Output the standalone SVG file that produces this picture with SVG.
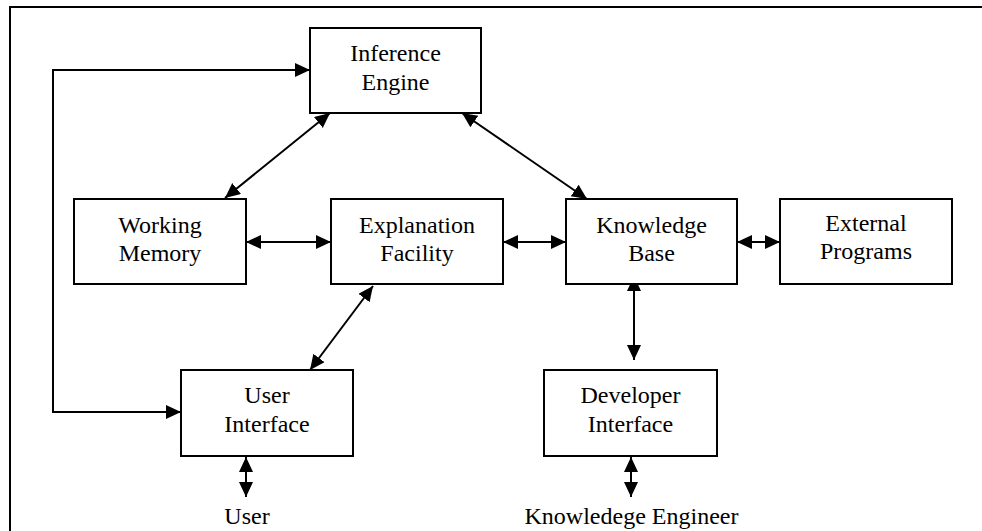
<svg xmlns="http://www.w3.org/2000/svg" width="982" height="531" viewBox="0 0 982 531">
<style>
.box{fill:#fff;stroke:#000;stroke-width:2}
.t{font-family:"Liberation Serif","Times New Roman",serif;font-size:24px;fill:#000;text-anchor:middle}
.c{fill:none;stroke:#000;stroke-width:2}
.frame{fill:none;stroke:#000;stroke-width:2}
</style>
<defs>
<marker id="ah" markerUnits="userSpaceOnUse" markerWidth="16" markerHeight="16" viewBox="0 0 16 16" refX="15" refY="7" orient="auto-start-reverse">
<path d="M0,0 L15,7 L0,14 Z" fill="#000"/>
</marker>
</defs>
<path class="frame" d="M10,531 L10,7 L982,7"/>
<g id="connectors">
<path class="c" d="M310,70 L53,70 L53,412 L181,412" marker-start="url(#ah)" marker-end="url(#ah)"/>
<line class="c" x1="330" y1="113" x2="225" y2="198" marker-start="url(#ah)" marker-end="url(#ah)"/>
<line class="c" x1="462" y1="113" x2="587" y2="199" marker-start="url(#ah)" marker-end="url(#ah)"/>
<line class="c" x1="246" y1="242" x2="331" y2="242" marker-start="url(#ah)" marker-end="url(#ah)"/>
<line class="c" x1="503" y1="242" x2="566" y2="242" marker-start="url(#ah)" marker-end="url(#ah)"/>
<line class="c" x1="737" y1="242" x2="780" y2="242" marker-start="url(#ah)" marker-end="url(#ah)"/>
<line class="c" x1="373" y1="286" x2="310" y2="370" marker-start="url(#ah)" marker-end="url(#ah)"/>
<line class="c" x1="634" y1="276" x2="634" y2="360" marker-start="url(#ah)" marker-end="url(#ah)"/>
<line class="c" x1="246" y1="457" x2="246" y2="497" marker-start="url(#ah)" marker-end="url(#ah)"/>
<line class="c" x1="631" y1="457" x2="631" y2="497" marker-start="url(#ah)" marker-end="url(#ah)"/>
</g>
<g id="inference-engine">
<rect class="box" x="310" y="28" width="171" height="85"/>
<text class="t" x="395.5" y="61">Inference</text>
<text class="t" x="395.5" y="90">Engine</text>
</g>
<g id="working-memory">
<rect class="box" x="74" y="199" width="172" height="85"/>
<text class="t" x="160" y="233">Working</text>
<text class="t" x="160" y="261">Memory</text>
</g>
<g id="explanation-facility">
<rect class="box" x="331" y="199" width="172" height="85"/>
<text class="t" x="417" y="233">Explanation</text>
<text class="t" x="417" y="261">Facility</text>
</g>
<g id="knowledge-base">
<rect class="box" x="566" y="199" width="171" height="85"/>
<text class="t" x="651.5" y="233">Knowledge</text>
<text class="t" x="651.5" y="261">Base</text>
</g>
<g id="external-programs">
<rect class="box" x="780" y="199" width="172" height="85"/>
<text class="t" x="866" y="231">External</text>
<text class="t" x="866" y="259">Programs</text>
</g>
<g id="user-interface">
<rect class="box" x="181" y="370" width="172" height="86"/>
<text class="t" x="267" y="403">User</text>
<text class="t" x="267" y="432">Interface</text>
</g>
<g id="developer-interface">
<rect class="box" x="544" y="370" width="173" height="86"/>
<text class="t" x="630.5" y="403">Developer</text>
<text class="t" x="630.5" y="432">Interface</text>
</g>
<g id="user">
<text class="t" x="247" y="524">User</text>
</g>
<g id="knowledge-engineer">
<text class="t" x="631.5" y="524">Knowledege Engineer</text>
</g>
</svg>
